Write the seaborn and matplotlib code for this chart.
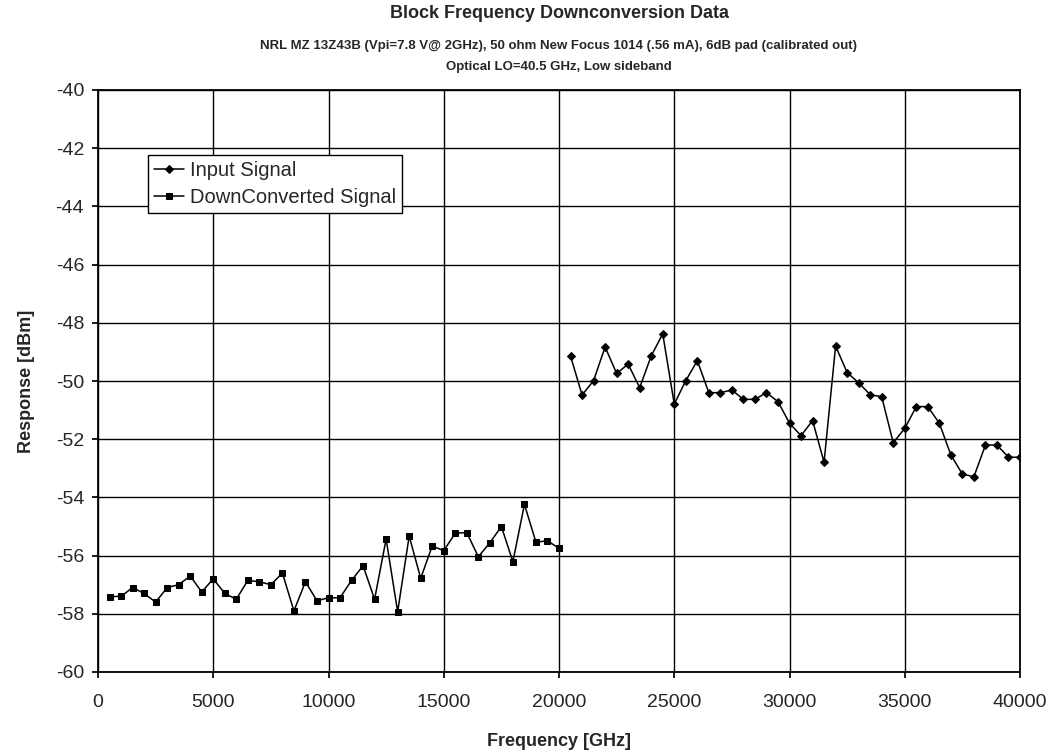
import numpy as np
import pandas as pd
import matplotlib
matplotlib.use("Agg")
import matplotlib.pyplot as plt
import seaborn as sns

# ---- data ----
down_freq = [500, 1000, 1500, 2000, 2500, 3000, 3500, 4000, 4500, 5000,
             5500, 6000, 6500, 7000, 7500, 8000, 8500, 9000, 9500, 10000,
             10500, 11000, 11500, 12000, 12500, 13000, 13500, 14000, 14500, 15000,
             15500, 16000, 16500, 17000, 17500, 18000, 18500, 19000, 19500, 20000]
down_resp = [-57.41, -57.40, -57.10, -57.30, -57.60, -57.10, -57.00, -56.70, -57.25, -56.80,
             -57.30, -57.50, -56.85, -56.90, -57.00, -56.60, -57.90, -56.90, -57.55, -57.45,
             -57.45, -56.85, -56.35, -57.50, -55.43, -57.93, -55.33, -56.78, -55.67, -55.83,
             -55.23, -55.21, -56.04, -55.56, -55.00, -56.21, -54.24, -55.54, -55.49, -55.75]

input_freq = [20500, 21000, 21500, 22000, 22500, 23000, 23500, 24000, 24500, 25000,
              25500, 26000, 26500, 27000, 27500, 28000, 28500, 29000, 29500, 30000,
              30500, 31000, 31500, 32000, 32500, 33000, 33500, 34000, 34500, 35000,
              35500, 36000, 36500, 37000, 37500, 38000, 38500, 39000, 39500, 40000]
input_resp = [-49.14, -50.48, -49.99, -48.83, -49.74, -49.42, -50.23, -49.14, -48.38, -50.79,
              -49.99, -49.30, -50.40, -50.40, -50.31, -50.63, -50.63, -50.40, -50.71, -51.45,
              -51.88, -51.36, -52.79, -48.80, -49.71, -50.06, -50.47, -50.54, -52.12, -51.63,
              -50.88, -50.88, -51.45, -52.54, -53.20, -53.29, -52.20, -52.20, -52.62, -52.62]

series_names = ["Input Signal", "DownConverted Signal"]
x_ticks = [0, 5000, 10000, 15000, 20000, 25000, 30000, 35000, 40000]
y_ticks = [-60, -58, -56, -54, -52, -50, -48, -46, -44, -42, -40]

title = "Block Frequency Downconversion Data"
subtitle1 = "NRL MZ 13Z43B (Vpi=7.8 V@ 2GHz), 50 ohm New Focus 1014 (.56 mA), 6dB pad (calibrated out)"
subtitle2 = "Optical LO=40.5 GHz, Low sideband"

df = pd.concat([
    pd.DataFrame({"freq": input_freq, "resp": input_resp, "series": series_names[0]}),
    pd.DataFrame({"freq": down_freq, "resp": down_resp, "series": series_names[1]}),
], ignore_index=True)

# ---- style ----
sns.set_theme(style="white")
plt.rcParams["font.family"] = ["Liberation Sans", "DejaVu Sans"]

fig = plt.figure(figsize=(10.58, 7.56), dpi=100)
ax = fig.add_axes([98 / 1058, 84 / 756, 922 / 1058, 582 / 756])

sns.lineplot(data=df, x="freq", y="resp", hue="series", style="series",
             hue_order=series_names, style_order=series_names,
             palette=["black", "black"], markers={series_names[0]: "D", series_names[1]: "s"},
             dashes=False, linewidth=1.1, markersize=5, markeredgecolor="black",
             sort=False, estimator=None, ax=ax, legend=True)

for line in ax.get_lines():
    if line.get_marker() == "D":
        line.set_markersize(4.0)
    elif line.get_marker() == "s":
        line.set_markersize(4.6)

ax.set_xlim(0, 40000)
ax.set_ylim(-60, -40)
ax.set_xticks(x_ticks)
ax.set_yticks(y_ticks)
ax.set_xticklabels([str(t) for t in x_ticks], fontsize=14)
ax.set_yticklabels([str(t) for t in y_ticks], fontsize=14)
ax.grid(True, color="black", linewidth=1.0)
ax.set_axisbelow(True)
for s in ax.spines.values():
    s.set_color("black")
    s.set_linewidth(1.3)
ax.tick_params(axis="both", which="major", direction="out", length=4, color="black",
               left=True, bottom=True)
ax.tick_params(axis="x", pad=12)
ax.tick_params(axis="y", pad=6)

ax.set_xlabel("Frequency [GHz]", fontsize=13, fontweight="bold", labelpad=16)
ax.set_ylabel("Response [dBm]", fontsize=13, fontweight="bold", labelpad=15)

handles, labels = ax.get_legend_handles_labels()
leg = ax.legend(handles, labels, loc="upper left", bbox_to_anchor=(0.054, 0.888),
                fontsize=14.5, frameon=True, fancybox=False, framealpha=1,
                edgecolor="black", borderpad=0.3, handlelength=1.5, handletextpad=0.3,
                labelspacing=0.4, borderaxespad=0)
leg.get_frame().set_linewidth(1.0)

cx = (98 + 1020) / 2 / 1058
fig.text(cx, 1 - 14 / 756, title, ha="center", va="center", fontsize=13, fontweight="bold")
fig.text(cx, 1 - 46 / 756, subtitle1, ha="center", va="center", fontsize=9.5, fontweight="bold")
fig.text(cx, 1 - 67 / 756, subtitle2, ha="center", va="center", fontsize=9.5, fontweight="bold")

fig.savefig("out.png", dpi=100)
